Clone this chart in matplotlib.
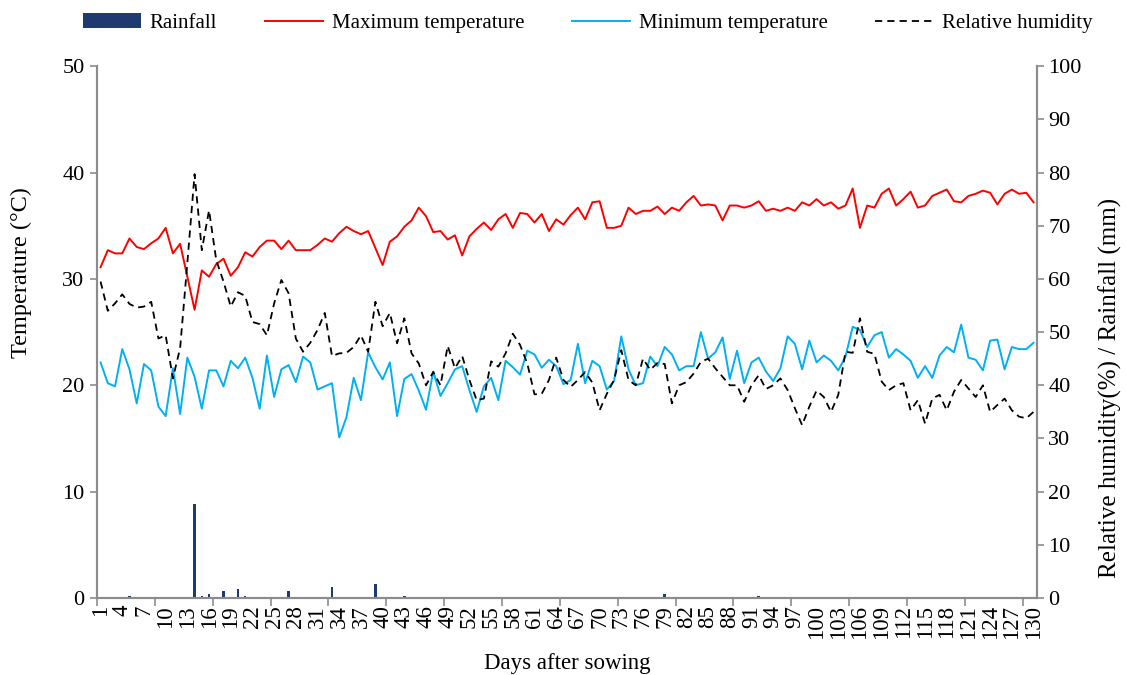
#!/usr/bin/env python3
"""Daily weather during the crop season: temperatures, humidity and rainfall."""
import matplotlib
matplotlib.use("Agg")
import matplotlib.pyplot as plt
import numpy as np

days = np.arange(1, 131)

tmax = [
    31.1, 32.7, 32.4, 32.4, 33.8, 33.0, 32.8, 33.35, 33.8, 34.8,
    32.4, 33.3, 30.2, 27.1, 30.8, 30.2, 31.4, 31.9, 30.3, 31.1,
    32.5, 32.1, 33.0, 33.6, 33.6, 32.8, 33.6, 32.7, 32.7, 32.7,
    33.2, 33.8, 33.5, 34.3, 34.9, 34.5, 34.2, 34.5, 32.9, 31.3,
    33.5, 34.0, 34.9, 35.5, 36.7, 35.9, 34.4, 34.5, 33.7, 34.1,
    32.2, 34.0, 34.7, 35.3, 34.6, 35.6, 36.1, 34.8, 36.2, 36.1,
    35.3, 36.1, 34.5, 35.6, 35.1, 36.0, 36.7, 35.6, 37.2, 37.3,
    34.8, 34.8, 35.0, 36.7, 36.1, 36.4, 36.4, 36.8, 36.1, 36.7,
    36.4, 37.2, 37.8, 36.9, 37.0, 36.9, 35.5, 36.9, 36.9, 36.7,
    36.9, 37.3, 36.4, 36.6, 36.4, 36.7, 36.4, 37.2, 36.9, 37.5,
    36.9, 37.2, 36.6, 36.9, 38.5, 34.8, 36.9, 36.7, 38.0, 38.5,
    36.9, 37.5, 38.2, 36.7, 36.9, 37.8, 38.1, 38.4, 37.3, 37.2,
    37.8, 38.0, 38.3, 38.1, 37.0, 38.0, 38.4, 38.0, 38.1, 37.2,
]

tmin = [
    22.15, 20.2, 19.9, 23.4, 21.5, 18.3, 22.0, 21.4, 18.0, 17.1,
    21.6, 17.3, 22.6, 20.8, 17.8, 21.4, 21.4, 19.9, 22.3, 21.6,
    22.6, 20.7, 17.8, 22.8, 18.9, 21.5, 21.9, 20.3, 22.7, 22.15,
    19.6, 19.9, 20.2, 15.1, 17.0, 20.7, 18.6, 23.1, 21.7, 20.55,
    22.15, 17.1, 20.6, 21.05, 19.5, 17.7, 21.3, 19.0, 20.2, 21.5,
    21.8, 19.55, 17.5, 19.9, 20.7, 18.6, 22.3, 21.7, 21.0, 23.25,
    22.9, 21.65, 22.4, 21.8, 20.1, 20.5, 23.9, 20.2, 22.3, 21.8,
    19.6, 20.4, 24.6, 21.5, 20.0, 20.2, 22.7, 21.8, 23.6, 22.9,
    21.4, 21.8, 21.8, 25.0, 22.5, 23.1, 24.5, 20.6, 23.25, 20.2,
    22.15, 22.6, 21.3, 20.4, 21.6, 24.6, 23.9, 21.5, 24.2, 22.15,
    22.8, 22.3, 21.4, 22.7, 25.5, 25.2, 23.6, 24.7, 25.0, 22.6,
    23.4, 22.9, 22.3, 20.7, 21.8, 20.7, 22.8, 23.6, 23.1, 25.7,
    22.6, 22.4, 21.4, 24.2, 24.3, 21.5, 23.6, 23.4, 23.4, 24.0,
]

humidity = [
    59.5, 54.0, 55.4, 57.1, 55.3, 54.6, 54.8, 55.7, 48.8, 49.4,
    41.3, 47.0, 63.0, 79.7, 65.4, 72.9, 63.5, 59.5, 54.8, 57.5,
    56.8, 51.9, 51.5, 49.4, 55.4, 59.8, 57.3, 48.8, 46.3, 48.0,
    50.4, 53.6, 45.5, 46.0, 46.1, 47.2, 49.4, 46.3, 55.7, 51.1,
    53.6, 47.9, 52.6, 46.0, 44.1, 40.0, 42.5, 40.0, 47.4, 43.2,
    45.5, 41.0, 37.2, 37.5, 44.5, 43.5, 46.0, 49.7, 47.6, 44.1,
    38.3, 38.4, 41.0, 45.2, 41.0, 39.7, 41.0, 42.5, 40.5, 35.3,
    38.4, 41.0, 46.6, 41.0, 40.0, 45.0, 42.9, 44.2, 44.0, 36.6,
    40.0, 40.6, 42.2, 44.4, 45.0, 43.2, 41.6, 40.0, 40.0, 36.9,
    40.0, 41.9, 39.3, 40.0, 41.3, 39.1, 35.7, 32.5, 36.0, 39.0,
    37.8, 35.0, 38.2, 46.3, 46.1, 52.6, 46.3, 45.9, 40.7, 39.1,
    40.0, 40.4, 35.3, 37.2, 32.8, 37.5, 38.2, 35.3, 38.8, 41.0,
    39.4, 37.8, 40.0, 35.0, 36.3, 37.5, 35.3, 34.1, 33.8, 35.0,
]

rain_days = [5, 14, 15, 16, 18, 20, 21, 27, 33, 39, 43, 79, 92]
rain_mm = [0.4, 17.7, 0.4, 0.7, 1.4, 1.7, 0.4, 1.4, 2.0, 2.6, 0.3, 0.7, 0.3]

tick_days = list(range(1, 131, 3))

plt.rcParams["font.family"] = ["Liberation Serif", "DejaVu Serif"]
GREY = "#8c8c8c"

fig = plt.figure(figsize=(11.26, 6.75), dpi=100)
ax = fig.add_axes([0.0861, 0.114, 0.835, 0.788])
ax2 = ax.twinx()

bars = ax2.bar(rain_days, rain_mm, width=0.35, color="#1f3a6e", label="Rainfall", zorder=1)
l_max, = ax.plot(days, tmax, color="#ff0000", lw=1.4, label="Maximum temperature")
l_min, = ax.plot(days, tmin, color="#00b0f0", lw=1.4, label="Minimum temperature")
l_rh, = ax2.plot(days, humidity, color="black", lw=1.3, ls=(0, (4, 2.8)), label="Relative humidity")

ax.set_xlim(0.5, 130.5)
ax.set_ylim(0, 50)
ax2.set_ylim(0, 100)
ax.set_yticks(range(0, 51, 10))
ax2.set_yticks(range(0, 101, 10))

ax.set_xticks(tick_days)
ax.set_xticklabels([str(d) for d in tick_days], rotation=90)
ax.set_xticks(np.arange(0.5, 131, 8), minor=True)
ax.tick_params(axis="x", which="major", length=0, pad=5, labelsize=16.5)
ax.tick_params(axis="x", which="minor", length=6, color=GREY, width=1.2)
ax.tick_params(axis="y", length=5, color=GREY, width=1.2, labelsize=16, pad=4)
ax2.tick_params(axis="y", length=5, color=GREY, width=1.2, labelsize=16, pad=3)

for a in (ax, ax2):
    a.spines["top"].set_visible(False)
    for s in ("left", "right", "bottom"):
        a.spines[s].set_color(GREY)
        a.spines[s].set_linewidth(1.5)

fig.text(0.5035, 0.033, "Days after sowing", fontsize=16.5, ha="center", va="top")
fig.text(0.019, 0.596, "Temperature (°C)", fontsize=17.5, rotation=90,
         ha="center", va="center")
fig.text(0.986, 0.425, "Relative humidity(%) / Rainfall (mm)", fontsize=18,
         rotation=90, ha="center", va="center")

fig.legend(handles=[bars, l_max, l_min, l_rh], loc="upper center",
           bbox_to_anchor=(0.522, 1.008), ncol=4, frameon=False, fontsize=15,
           handlelength=2.8, handletextpad=0.4, columnspacing=2.3)

fig.savefig("out.png", dpi=100)
